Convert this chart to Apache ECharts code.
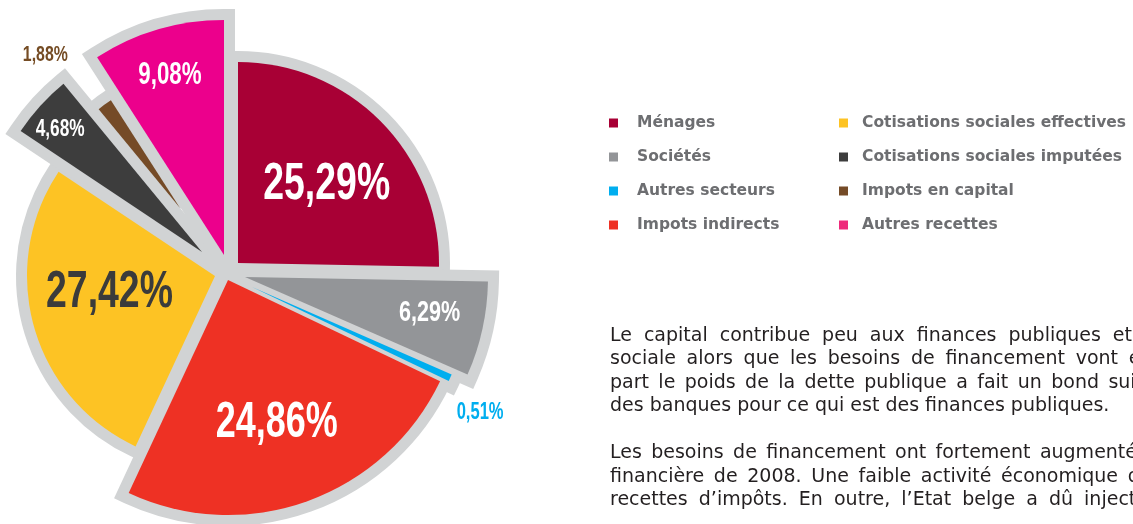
<!DOCTYPE html>
<html>
<head>
<meta charset="utf-8">
<title>Recettes publiques</title>
<script src="https://cdn.jsdelivr.net/npm/echarts@6/dist/echarts.min.js"></script>
<style>
  html, body { margin: 0; padding: 0; background: #fff; }
  #main { width: 1133px; height: 524px; }
</style>
</head>
<body>
<div id="main"></div>
<script>
// données du graphique
var categories = ['Ménages', 'Sociétés', 'Autres secteurs', 'Impots indirects',
  'Cotisations sociales effectives', 'Cotisations sociales imputées', 'Impots en capital', 'Autres recettes'];
var shares = [25.29, 6.29, 0.51, 24.86, 27.42, 4.68, 1.88, 9.08];

// styles
var sliceColors = ['#a80035', '#939598', '#00aeef', '#ee3124', '#fdc324', '#3d3d3d', '#754b27', '#ec008c'];
var legendColors = ['#a80035', '#939598', '#00aeef', '#ee3124', '#fdc324', '#3d3d3d', '#754b27', '#ee2a7b'];
var borderGrey = '#d1d3d4';

// chaque part est décalée : sommet et rayon (px)
var sliceCenters = [[238, 263], [245, 277], [252, 287], [228, 280], [215, 276], [202, 252], [180, 208], [224, 255]];
var sliceRadius = [201, 243, 218, 235, 188, 218, 128, 235];
// étiquettes : décalage depuis le milieu de la part, taille
var labelOffsets = [[17, -8], [66, 10], [129, 80], [9, 33], [-15, -9], [-61, -50], [-97, -101], [-21, -67]];
var labelSizes = [52, 30, 23, 50, 52, 24, 22, 31];
var labelColors = ['#fff', '#fff', '#00aeef', '#fff', '#3b3b3b', '#fff', '#754c24', '#fff'];

// texte de droite : [ligne, nb de mots justifiés, bord droit]
var bodyLines = [
  ['Le capital contribue peu aux finances publiques et à la sécurité', 8, 1132],
  ['sociale alors que les besoins de financement vont en augmentant.', 8, 1118],
  ['part le poids de la dette publique a fait un bond suite au sauvetage', 11, 1099],
  ['des banques pour ce qui est des finances publiques.', 0, 0],
  null,
  ['Les besoins de financement ont fortement augmenté suite à la crise', 7, 1137],
  ['financière de 2008. Une faible activité économique débouche sur', 7, 1118],
  ['recettes d’impôts. En outre, l’Etat belge a dû injecter des', 8, 1073]
];

var myChart = echarts.init(document.getElementById('main'), null, { renderer: 'canvas' });

// deux couches par part : fond gris (bordure) puis couleur
var series = [];
categories.forEach(function (name, i) {
  ['back', 'front'].forEach(function (layer) {
    series.push({
      type: 'pie',
      silent: true,
      animation: false,
      z: layer === 'back' ? 1 : 2,
      center: sliceCenters[i],
      radius: sliceRadius[i],
      startAngle: 90,
      clockwise: true,
      avoidLabelOverlap: false,
      emphasis: { disabled: true },
      label: { show: false },
      labelLine: { show: false },
      data: categories.map(function (n, j) {
        var style;
        if (j !== i) {
          style = { color: 'rgba(0,0,0,0)', borderWidth: 0 };
        } else if (layer === 'back') {
          style = { color: borderGrey, borderColor: borderGrey, borderWidth: 22, borderJoin: 'miter', borderMiterLimit: 8 };
        } else {
          style = { color: sliceColors[j], borderWidth: 0 };
        }
        return { name: n, value: shares[j], itemStyle: style };
      })
    });
  });
});

var graphics = [];

// pourcentages : police étroite simulée (scaleX)
var total = shares.reduce(function (a, b) { return a + b; }, 0);
var acc = 0;
shares.forEach(function (v, i) {
  var mid = (acc + v / 2) / total * 2 * Math.PI;
  acc += v;
  var half = sliceRadius[i] / 2;
  graphics.push({
    type: 'text',
    silent: true,
    z: 10,
    x: sliceCenters[i][0] + Math.sin(mid) * half + labelOffsets[i][0],
    y: sliceCenters[i][1] - Math.cos(mid) * half + labelOffsets[i][1],
    scaleX: 0.72,
    style: {
      text: v.toFixed(2).replace('.', ',') + '%',
      font: 'bold ' + labelSizes[i] + 'px "Liberation Sans"',
      fill: labelColors[i],
      align: 'center',
      verticalAlign: 'middle'
    }
  });
});

// texte justifié, mot par mot
var bodyFont = '19px "DejaVu Sans"';
var ctx = document.createElement('canvas').getContext('2d');
ctx.font = bodyFont;
bodyLines.forEach(function (line, k) {
  if (!line) return;
  var words = line[0].split(' ');
  var widths = words.map(function (w) { return ctx.measureText(w).width; });
  var gap = ctx.measureText(' ').width;
  if (line[1] > 1) {
    var sum = 0;
    for (var m = 0; m < line[1]; m++) sum += widths[m];
    gap = (line[2] - 610 - sum) / (line[1] - 1);
  }
  var x = 610;
  words.forEach(function (w, m) {
    graphics.push({
      type: 'text',
      silent: true,
      x: x,
      y: 336 + k * 23.5,
      style: { text: w, font: bodyFont, fill: '#231f20', verticalAlign: 'middle' }
    });
    x += widths[m] + gap;
  });
});

function legendBlock(from, to, left, padLeft) {
  return {
    orient: 'vertical',
    left: left,
    top: 113,
    padding: 0,
    icon: 'rect',
    itemWidth: 9,
    itemHeight: 9,
    itemGap: 14,
    selectedMode: false,
    data: categories.slice(from, to).map(function (n, j) {
      return { name: n, itemStyle: { color: legendColors[from + j], borderWidth: 0 } };
    }),
    textStyle: {
      fontFamily: '"DejaVu Sans"',
      fontWeight: 'bold',
      fontSize: 15.5,
      lineHeight: 20,
      color: '#6d6e71',
      padding: [0, 0, 0, padLeft]
    }
  };
}

var option = {
  backgroundColor: '#fff',
  animation: false,
  legend: [legendBlock(0, 4, 609, 14), legendBlock(4, 8, 839, 9)],
  graphic: graphics,
  series: series
};

myChart.setOption(option);
window.onresize = function () {
  myChart.resize();
};
</script>
</body>
</html>
